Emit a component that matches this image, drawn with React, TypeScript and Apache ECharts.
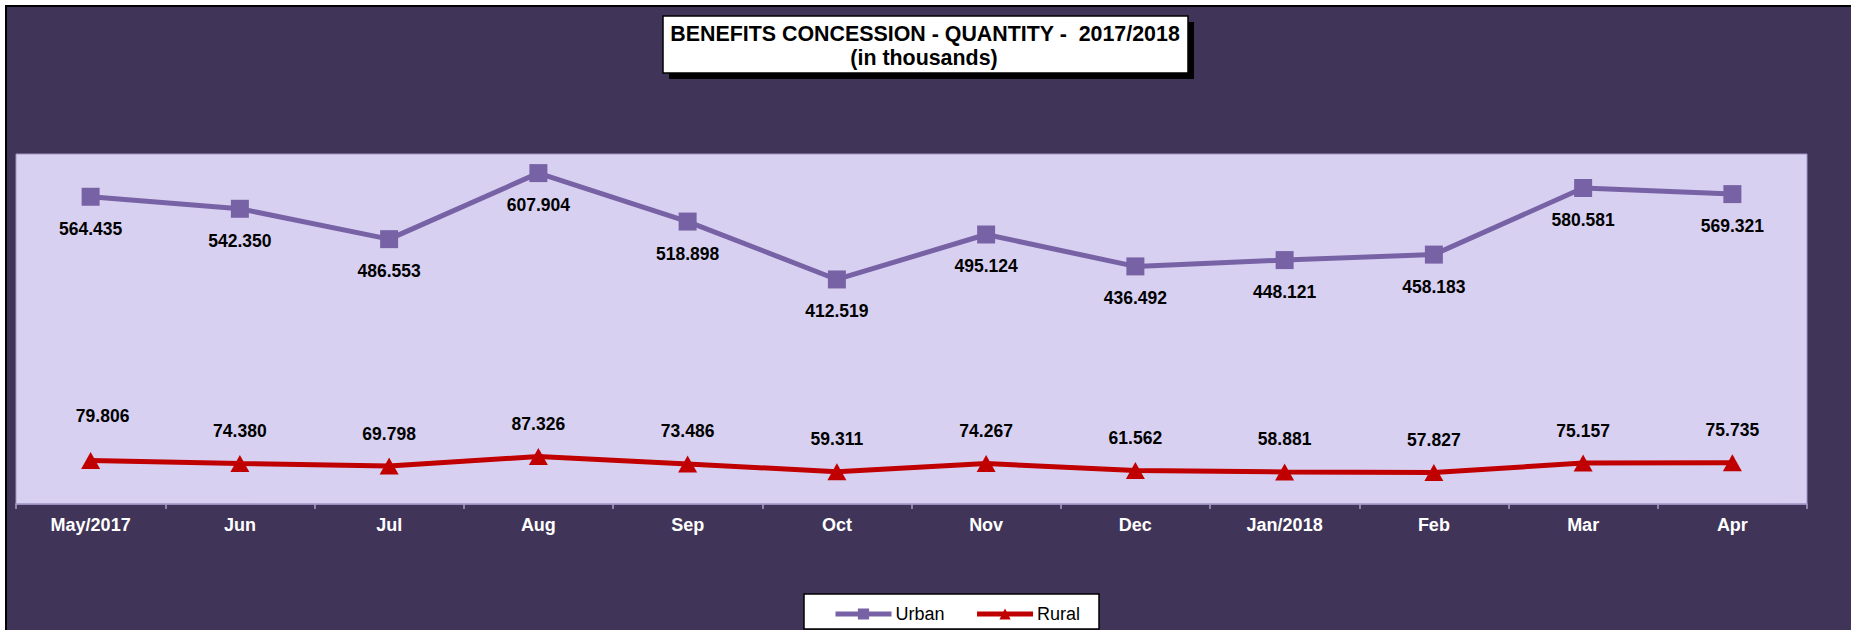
import React, { useEffect, useRef } from "react";
import * as echarts from "echarts";

const categories = ["May/2017", "Jun", "Jul", "Aug", "Sep", "Oct", "Nov", "Dec", "Jan/2018", "Feb", "Mar", "Apr"];
const urban = [564.435, 542.35, 486.553, 607.904, 518.898, 412.519, 495.124, 436.492, 448.121, 458.183, 580.581, 569.321];
const rural = [79.806, 74.38, 69.798, 87.326, 73.486, 59.311, 74.267, 61.562, 58.881, 57.827, 75.157, 75.735];
const titleLine1 = "BENEFITS CONCESSION - QUANTITY -  2017/2018";
const titleLine2 = "(in thousands)";

const FONT = "'Liberation Sans', Arial, sans-serif";

export default function App() {
  const ref = useRef<HTMLDivElement>(null);
  useEffect(() => {
    if (!ref.current) return;
    const chart = echarts.init(ref.current, undefined, { renderer: "svg" });
    const fmt = (p: any) => Number(p.value).toFixed(3);
    // first rural label was moved by hand in the original chart
    const ruralData = rural.map((v, i) => (i === 0 ? { value: v, label: { offset: [12, -12] } } : v));
    chart.setOption({
      animation: false,
      textStyle: { fontFamily: FONT },
      grid: {
        left: 16,
        right: 44,
        top: 154,
        bottom: 126,
        show: true,
        backgroundColor: "#D8D0F0",
        borderColor: "#A297C6",
        borderWidth: 1,
      },
      xAxis: {
        type: "category",
        data: categories,
        boundaryGap: true,
        axisLine: { lineStyle: { color: "#A89DCC", width: 1.5 } },
        axisTick: { show: true, length: 5, lineStyle: { color: "#A89DCC", width: 1.5 } },
        axisLabel: { color: "#FFFFFF", fontWeight: "bold", fontSize: 18, margin: 12, fontFamily: FONT },
        splitLine: { show: false },
      },
      yAxis: {
        type: "value",
        min: 0,
        max: 643,
        show: false,
        splitLine: { show: false },
      },
      legend: {
        left: 833,
        top: 605,
        itemWidth: 56,
        itemHeight: 14,
        itemGap: 30,
        padding: 0,
        lineStyle: { width: 5 },
        textStyle: { color: "#000", fontSize: 18, fontFamily: FONT, padding: [0, 0, 0, -1] },
        data: ["Urban", "Rural"],
      },
      graphic: [
        { type: "rect", shape: { x: 804, y: 594, width: 295, height: 35 }, style: { fill: "#FFFFFF", stroke: "#000", lineWidth: 1.5 }, z: -1 },
        { type: "rect", shape: { x: 669, y: 22, width: 525, height: 57 }, style: { fill: "#000" } },
        { type: "rect", shape: { x: 663, y: 16, width: 525, height: 57 }, style: { fill: "#FFFFFF", stroke: "#000", lineWidth: 1.5 } },
        {
          type: "text",
          x: 925,
          y: 33.5,
          style: { text: titleLine1, fill: "#000", font: `bold 21.4px ${FONT}`, align: "center", verticalAlign: "middle" },
        },
        {
          type: "text",
          x: 924,
          y: 57.5,
          style: { text: titleLine2, fill: "#000", font: `bold 21.4px ${FONT}`, align: "center", verticalAlign: "middle" },
        },
      ],
      series: [
        {
          name: "Urban",
          type: "line",
          data: urban,
          symbol: "rect",
          symbolSize: 18,
          lineStyle: { color: "#7862A6", width: 5 },
          itemStyle: { color: "#7862A6" },
          label: {
            show: true,
            position: "bottom",
            distance: 14,
            formatter: fmt,
            color: "#000",
            fontWeight: "bold",
            fontSize: 17.5,
            fontFamily: FONT,
          },
        },
        {
          name: "Rural",
          type: "line",
          data: ruralData,
          symbol: "triangle",
          symbolSize: [19, 17],
          lineStyle: { color: "#C00000", width: 5 },
          itemStyle: { color: "#C00000" },
          label: {
            show: true,
            position: "top",
            distance: 15,
            formatter: fmt,
            color: "#000",
            fontWeight: "bold",
            fontSize: 17.5,
            fontFamily: FONT,
          },
        },
      ],
    });
    return () => chart.dispose();
  }, []);

  return (
    <div>
      <div
        style={{
          position: "fixed",
          left: 5,
          top: 5,
          width: 1900,
          height: 700,
          background: "#403558",
          border: "2px solid #000",
        }}
      />
      <div ref={ref} style={{ position: "fixed", left: 0, top: 0, width: 1851, height: 630 }} />
    </div>
  );
}
